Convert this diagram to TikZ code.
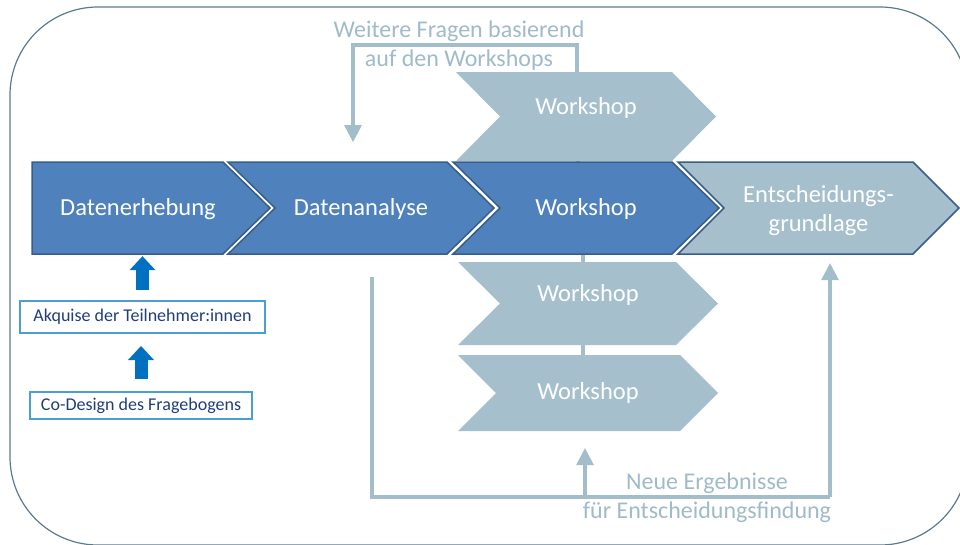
\documentclass[tikz,border=0pt]{standalone}
\usepackage{fontspec}
\setmainfont{Carlito}
\usetikzlibrary{arrows.meta}
\definecolor{mainblue}{HTML}{4F81BD}
\definecolor{chevline}{HTML}{385D8A}
\definecolor{lightchevc}{HTML}{A5C0CC}
\definecolor{conn}{HTML}{A3BECB}
\definecolor{lbltext}{HTML}{9FBBC9}
\definecolor{framec}{HTML}{5B7B8D}
\definecolor{boxline}{HTML}{4A9FD0}
\definecolor{boxtext}{HTML}{203E78}
\definecolor{arrblue}{HTML}{0070C0}
% chevron with notch: name, xl, xr, ytop, ybot, depth, style, text, text shift
\newcommand\chevN[9]{%
  \path[#7] (#2,#4) -- ({#3-#6},#4) -- (#3,{(#4+#5)/2}) -- ({#3-#6},#5) -- (#2,#5) -- ({#2+#6},{(#4+#5)/2}) -- cycle;
  \node[chevtext, minimum width={(#3-#2)*1pt}, minimum height={(#5-#4)*1pt}] (#1) at ({(#2+#3)/2},{(#4+#5)/2}) {};
  \node[chevtext] (#1-t) at ([yshift=#9]#1.center) {#8};}
\begin{document}
\begin{tikzpicture}[x=1pt,y=-1pt,
  chevtext/.style={text=white, font=\fontsize{24.5}{29}\selectfont, inner sep=0pt, align=center},
  mainchev/.style={fill=mainblue, draw=chevline, line width=1.5pt, line join=miter},
  lightchev/.style={fill=lightchevc},
  endchev/.style={fill=lightchevc, draw=chevline, line width=1.5pt, line join=miter},
  fbline/.style={draw=conn, line width=4pt},
  fbarrow/.style={fbline, -{Triangle[width=18pt,length=17pt,line width=0pt]}},
  linkline/.style={draw=conn, line width=4.5pt},
  lbl/.style={text=lbltext, font=\fontsize{24}{29}\selectfont, align=center, inner sep=0pt},
  smallbox/.style={draw=boxline, line width=2pt, text=boxtext, font=\fontsize{18}{21}\selectfont, inner sep=0pt},
  blockarr/.style={draw=arrblue, line width=13pt, -{Triangle[width=26pt,length=14pt,line width=0pt]}}
]
\useasboundingbox (0,0) rectangle (960,544);
% outer frame
\draw[framec, line width=1.2pt, rounded corners=88pt] (10,7) rectangle (968,545);

% light workshop chevrons
\chevN{wtop}{456}{716}{72}{161}{44}{lightchev}{Workshop}{9pt}
\chevN{wb}{458}{718}{262}{345}{42}{lightchev}{Workshop}{9pt}
\chevN{wc}{458}{718}{355}{431}{38}{lightchev}{Workshop}{0pt}

% links between the stacked workshops
\draw[linkline] ([xshift=-8pt]wtop.south) -- ++(0,8);
\draw[linkline] ([xshift=-5pt]wb.north) -- ++(0,-10);
\draw[linkline] ([xshift=-5pt]wb.south) -- ([xshift=-5pt]wc.north);

% main process chevrons
\path[mainchev] (32,162) -- (223,162) -- (270,208) -- (223,254) -- (32,254) -- cycle;
\node[chevtext, minimum width=212pt, minimum height=92pt] (c1) at (138,208) {};
\node[chevtext] (c1-t) at ([yshift=-1pt]c1.center) {Datenerhebung};
\chevN{c2}{228}{494}{162}{254}{47}{mainchev}{Datenanalyse}{-1pt}
\chevN{c3}{453}{719}{162}{254}{47}{mainchev}{Workshop}{-1pt}
\chevN{c4}{678}{959}{162}{254}{46}{endchev}{Entscheidungs-\\grundlage}{-3pt}

% left boxes and block arrows
\node[smallbox, minimum width=245pt, minimum height=32pt] (akq) at (142.5,317) {Akquise der Teilnehmer:innen};
\node[smallbox, minimum width=222pt, minimum height=27pt] (co) at (141,405.5) {Co-Design des Fragebogens};
\draw[blockarr] ([yshift=10pt]akq.north) -- ([yshift=-2pt]akq.north |- c1.south);
\draw[blockarr] ([yshift=12pt]co.north) -- ([yshift=-12pt]co.north |- akq.south);

% feedback from workshops to analysis
\coordinate (fbend) at (353,142);
\draw[fbarrow] ([xshift=-9pt]wtop.north) -- ++(0,-27) -| (fbend);
\node[lbl] (fq) at (459,45.5) {Weitere Fragen basierend\\auf den Workshops};

% new results to decision basis
\coordinate (bstart) at (372,277);
\coordinate (bturn) at (830,497);
\coordinate (bbranch) at (585,497);
\draw[fbline] (bstart) |- (bturn);
\draw[fbarrow] (bturn) -- ([xshift=11.5pt,yshift=-9pt]c4.south);
\draw[fbarrow] (bbranch) -- ([xshift=-3pt,yshift=-17pt]wc.south);
\node[lbl] (ne) at (707,498) {Neue Ergebnisse\\für Entscheidungsfindung};
\end{tikzpicture}
\end{document}
